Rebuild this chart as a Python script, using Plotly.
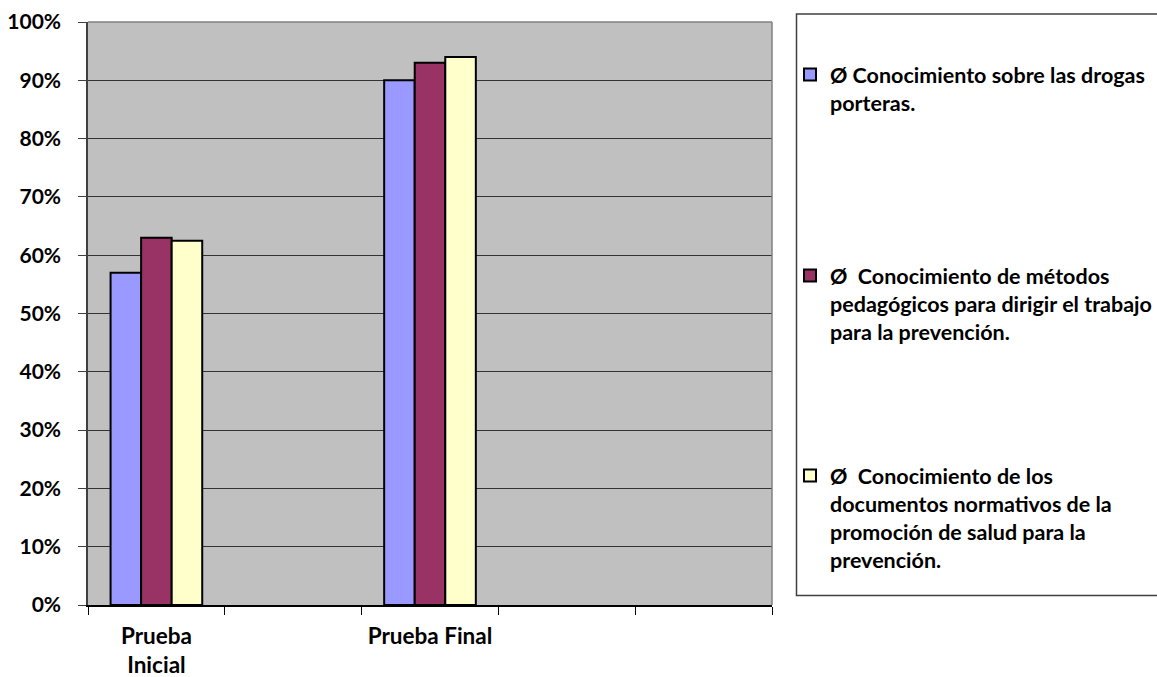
import plotly.graph_objects as go

# ---- data ----
slots = ["Prueba<br>Inicial", "\u200b", "Prueba Final", "\u200b\u200b", "\u200b\u200b\u200b"]
categories = ["Prueba<br>Inicial", "Prueba Final"]
series_names = [
    "Ø Conocimiento sobre las drogas<br>porteras.",
    "Ø  Conocimiento de métodos<br>pedagógicos para dirigir el trabajo<br>para la prevención.",
    "Ø  Conocimiento de los<br>documentos normativos de la<br>promoción de salud para la<br>prevención.",
]
drogas = [57, 90]
metodos = [63, 93]
documentos = [62.5, 94]
colors = ["#9999FF", "#993366", "#FFFFCC"]

W, H = 1157, 677
ML, MR, MT, MB = 88, 385, 22, 72
PW = W - ML - MR
PH = H - MT - MB

FONT = "Lato"

fig = go.Figure()
values = [drogas, metodos, documentos]
legends = ["legend", "legend2", "legend3"]
for name, vals, col, lg in zip(series_names, values, colors, legends):
    fig.add_trace(go.Bar(
        x=categories, y=vals, name=name,
        marker=dict(color=col, line=dict(color="#000000", width=2)),
        legend=lg,
    ))

def px_x(p):
    return (p - ML) / PW

def px_y(p):
    return (H - MB - p) / PH

leg_common = dict(
    xref="container", yref="container", xanchor="left", yanchor="top",
    bgcolor="rgba(0,0,0,0)", borderwidth=0, valign="top",
    font=dict(family=FONT, size=21.5, color="#000000", weight="bold"),
)
leg_x = 790 / W
leg_tops = [54, 255, 455]
fig.update_layout(
    legend=dict(x=leg_x, y=1 - leg_tops[0] / H, **leg_common),
    legend2=dict(x=leg_x, y=1 - leg_tops[1] / H, **leg_common),
    legend3=dict(x=leg_x, y=1 - leg_tops[2] / H, **leg_common),
)

fig.update_layout(
    width=W, height=H, autosize=False,
    margin=dict(l=ML, r=MR, t=MT, b=MB, pad=0),
    paper_bgcolor="#FFFFFF", plot_bgcolor="#C0C0C0",
    barmode="group", bargap=0.33, bargroupgap=0,
    showlegend=True,
    font=dict(family=FONT, size=21, color="#000000", weight="bold"),
    xaxis=dict(
        type="category", categoryorder="array", categoryarray=slots,
        range=[-0.5, 4.5], tickson="boundaries", ticks="outside", ticklen=8,
        tickcolor="#000000", showline=True, linecolor="#000000", linewidth=1.5,
        showgrid=False, zeroline=False, ticklabelstandoff=10, automargin=False,
        tickangle=0,
        tickfont=dict(family=FONT, size=22.5, color="#000000", weight="bold"),
    ),
    yaxis=dict(
        range=[0, 100], dtick=10, ticksuffix="%", ticks="outside", ticklen=8,
        tickcolor="#404040", showline=True, linecolor="#404040", linewidth=1.5,
        showgrid=True, gridcolor="#333333", gridwidth=1, zeroline=False,
        ticklabelstandoff=13, automargin=False,
        tickfont=dict(family=FONT, size=21, color="#000000", weight="bold"),
    ),
    shapes=[
        dict(type="line", xref="paper", yref="paper", x0=0, x1=1, y0=1, y1=1,
             line=dict(color="#808080", width=1.5), layer="above"),
        dict(type="line", xref="paper", yref="paper", x0=1, x1=1, y0=0, y1=1,
             line=dict(color="#808080", width=1.5), layer="above"),
        dict(type="rect", xref="paper", yref="paper",
             x0=px_x(796.5), x1=px_x(1220), y0=px_y(595.5), y1=px_y(14),
             line=dict(color="#404040", width=1.5), fillcolor="rgba(0,0,0,0)"),
    ],
)

fig.write_html(
    "out.html",
    config={"displayModeBar": False},
    post_script="document.body.style.margin='0';"
                "document.documentElement.style.overflow='hidden';",
)
